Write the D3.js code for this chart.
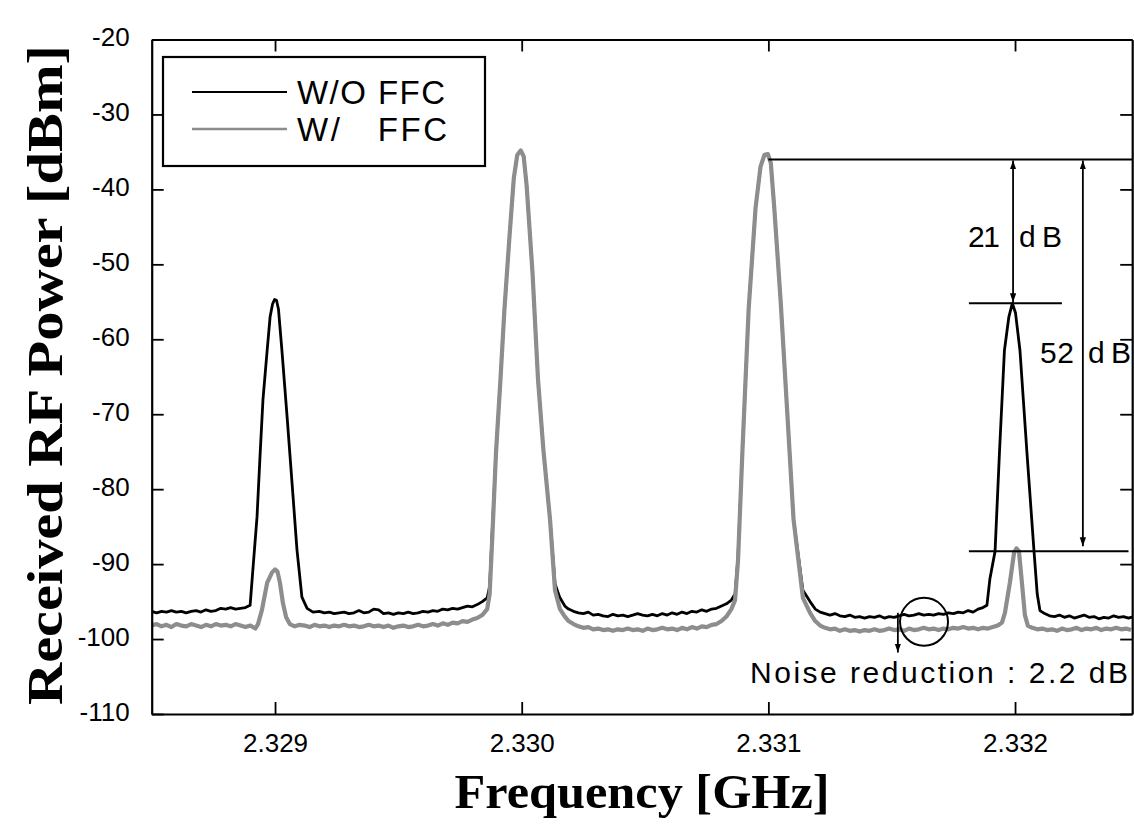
<!DOCTYPE html>
<html>
<head>
<meta charset="utf-8">
<script src="https://cdn.jsdelivr.net/npm/d3@7"></script>
<style>
  html, body { margin: 0; padding: 0; background: #fff; }
  svg { display: block; }
  .tick text { font-family: "Liberation Sans", Arial, sans-serif; font-size: 26px; fill: #000; }
</style>
</head>
<body>
<svg id="chart" width="1134" height="825"></svg>
<script>
// ---------------- data ----------------
const xTickValues = [2.329, 2.330, 2.331, 2.332];
const xTickLabels = ["2.329", "2.330", "2.331", "2.332"];
const yTickValues = [-20, -30, -40, -50, -60, -70, -80, -90, -100, -110];
const yTickLabels = ["-20", "-30", "-40", "-50", "-60", "-70", "-80", "-90", "-100", "-110"];
const seriesNames = ["W/O FFC", "W/   FFC"];

// W/O FFC  [frequency GHz, power dBm]
const withoutFFC = [
  [2.32850,-96.3],[2.32852,-96.5],[2.32854,-96.3],[2.32856,-96.4],[2.32858,-96.2],[2.32860,-96.4],
  [2.32862,-96.3],[2.32864,-96.5],[2.32866,-96.3],[2.32868,-96.2],[2.32870,-96.4],[2.32872,-96.1],
  [2.32874,-96.3],[2.32876,-96.2],[2.32878,-95.9],[2.32880,-96.0],[2.32882,-95.8],[2.32884,-96.0],
  [2.32886,-95.9],[2.32888,-95.8],
  [2.328899,-95.5],[2.328911,-90.4],[2.328927,-83.7],[2.328939,-75.7],[2.328951,-68.1],[2.328968,-61.5],
  [2.328980,-57.0],[2.328990,-55.3],[2.328998,-54.7],[2.329006,-54.8],[2.329014,-56.0],[2.329028,-61.5],[2.329049,-70.4],
  [2.329069,-79.2],[2.329089,-88.1],[2.329109,-94.4],[2.329130,-95.9],[2.329154,-96.4],
  [2.32918,-96.3],[2.32920,-96.5],[2.32922,-96.4],[2.32924,-96.6],[2.32926,-96.5],[2.32928,-96.4],
  [2.32930,-96.6],[2.32932,-96.5],[2.32934,-96.2],[2.32936,-96.5],[2.32938,-96.4],[2.32940,-96.0],
  [2.32942,-96.1],[2.32944,-96.6],[2.32946,-96.5],[2.32948,-96.7],[2.32950,-96.5],[2.32952,-96.6],
  [2.32954,-96.4],[2.32956,-96.6],[2.32958,-96.5],[2.32960,-96.3],[2.32962,-96.4],[2.32964,-96.2],
  [2.32966,-96.3],[2.32968,-96.0],[2.32970,-96.1],[2.32972,-95.9],[2.32974,-96.0],[2.32976,-95.8],
  [2.32978,-95.6],[2.32980,-95.7],[2.32982,-95.4],[2.32984,-95.0],[2.32986,-94.5],
  [2.329870,-93.0],[2.329880,-86.0],[2.329896,-75.0],[2.329914,-65.3],[2.329930,-56.0],[2.329950,-46.5],
  [2.329968,-38.5],[2.329982,-35.4],[2.329996,-34.8],[2.330008,-35.6],[2.330020,-39.5],[2.330044,-51.2],[2.330066,-65.3],[2.330088,-74.8],
  [2.330115,-84.1],[2.330135,-92.6],[2.330155,-94.5],
  [2.330175,-95.6],[2.33019,-96.0],[2.33021,-96.3],[2.33023,-96.5],[2.33025,-96.6],[2.33027,-96.4],
  [2.33029,-96.8],[2.33031,-96.7],[2.33033,-96.9],[2.33035,-97.0],[2.33037,-96.7],[2.33039,-96.9],
  [2.33041,-96.8],[2.33043,-97.0],[2.33045,-96.8],[2.33047,-96.6],[2.33049,-96.8],[2.33051,-96.9],
  [2.33053,-96.7],[2.33055,-96.9],[2.33057,-96.6],[2.33059,-96.8],[2.33061,-96.5],[2.33063,-96.7],
  [2.33065,-96.4],[2.33067,-96.6],[2.33069,-96.3],[2.33071,-96.4],[2.33073,-96.1],[2.33075,-96.3],
  [2.33077,-96.0],[2.33079,-95.9],[2.33081,-95.6],[2.33083,-95.3],[2.33085,-94.8],
  [2.330865,-94.0],[2.330877,-89.0],[2.330895,-74.8],[2.330920,-56.0],[2.330948,-42.5],[2.330968,-37.0],
  [2.330984,-35.4],[2.330998,-35.3],[2.331010,-36.5],[2.331024,-42.5],[2.331050,-55.0],[2.331077,-70.0],[2.331102,-84.0],
  [2.331140,-93.5],[2.331169,-95.0],
  [2.33119,-96.0],[2.33121,-96.4],[2.33123,-96.6],[2.33125,-96.8],[2.33127,-96.6],[2.33129,-96.9],
  [2.33131,-97.0],[2.33133,-96.8],[2.33135,-97.1],[2.33137,-97.0],[2.33139,-97.2],[2.33141,-97.0],
  [2.33143,-97.1],[2.33145,-96.9],[2.33147,-97.2],[2.33149,-97.0],[2.33151,-97.1],[2.33153,-96.9],
  [2.33155,-96.7],[2.33157,-96.9],[2.33159,-96.8],[2.33161,-96.6],[2.33163,-96.8],[2.33165,-96.7],
  [2.33167,-96.8],[2.33169,-96.6],[2.33171,-96.7],[2.33173,-96.5],[2.33175,-96.6],[2.33177,-96.4],
  [2.33179,-96.5],[2.33181,-96.2],[2.33183,-96.4],[2.33185,-96.0],[2.33187,-95.8],
  [2.331886,-95.5],[2.331898,-92.0],[2.331919,-88.3],[2.331937,-75.0],[2.331957,-61.5],[2.331975,-57.0],
  [2.331989,-55.2],[2.332002,-56.5],[2.332020,-61.5],[2.332048,-75.0],[2.332077,-88.3],[2.332090,-94.0],
  [2.332101,-96.2],
  [2.33212,-96.6],[2.33214,-96.9],[2.33216,-97.0],[2.33218,-96.8],[2.33220,-97.1],[2.33222,-96.9],
  [2.33224,-97.2],[2.33226,-97.0],[2.33228,-96.8],[2.33230,-97.1],[2.33232,-97.0],[2.33234,-97.3],
  [2.33236,-97.1],[2.33238,-97.2],[2.33240,-96.9],[2.33242,-97.1],[2.33244,-97.0],[2.33246,-97.2],
  [2.33248,-97.0]
];

// W/ FFC  [frequency GHz, power dBm]
const withFFC = [
  [2.32850,-98.2],[2.32852,-98.0],[2.32854,-98.3],[2.32856,-98.1],[2.32858,-98.4],[2.32860,-98.0],
  [2.32862,-98.2],[2.32864,-98.3],[2.32866,-98.0],[2.32868,-98.2],[2.32870,-98.4],[2.32872,-98.1],
  [2.32874,-98.3],[2.32876,-98.0],[2.32878,-98.2],[2.32880,-98.1],[2.32882,-98.3],[2.32884,-98.0],
  [2.32886,-98.2],[2.32888,-98.4],[2.32890,-98.2],[2.32892,-98.6],
  [2.328931,-98.0],[2.328947,-96.1],[2.328968,-92.5],[2.328988,-91.1],[2.329000,-90.7],[2.329010,-91.0],[2.329020,-92.5],
  [2.329032,-95.2],[2.329045,-97.1],[2.32906,-98.0],
  [2.32908,-98.3],[2.32910,-98.1],[2.32912,-98.2],[2.32914,-98.4],[2.32916,-98.1],[2.32918,-98.3],
  [2.32920,-98.2],[2.32922,-98.4],[2.32924,-98.2],[2.32926,-98.3],[2.32928,-98.1],[2.32930,-98.3],
  [2.32932,-98.2],[2.32934,-98.4],[2.32936,-98.3],[2.32938,-98.1],[2.32940,-98.3],[2.32942,-98.2],
  [2.32944,-98.4],[2.32946,-98.2],[2.32948,-98.5],[2.32950,-98.3],[2.32952,-98.2],[2.32954,-98.4],
  [2.32956,-98.3],[2.32958,-98.1],[2.32960,-98.3],[2.32962,-98.2],[2.32964,-98.0],[2.32966,-98.2],
  [2.32968,-97.9],[2.32970,-98.1],[2.32972,-97.8],[2.32974,-97.9],[2.32976,-97.6],[2.32978,-97.7],
  [2.32980,-97.4],[2.32982,-97.2],[2.32984,-96.8],[2.32986,-96.0],
  [2.329870,-94.0],[2.329880,-87.0],[2.329896,-75.0],[2.329914,-65.3],[2.329930,-56.0],[2.329950,-46.5],
  [2.329968,-38.5],[2.329982,-35.4],[2.329996,-34.8],[2.330008,-35.6],[2.330020,-39.5],[2.330044,-51.2],[2.330066,-65.3],[2.330088,-74.8],
  [2.330115,-84.1],[2.330135,-93.5],[2.330155,-96.0],
  [2.330175,-97.0],[2.33019,-97.6],[2.33021,-98.0],[2.33023,-98.3],[2.33025,-98.5],[2.33027,-98.4],
  [2.33029,-98.7],[2.33031,-98.6],[2.33033,-98.8],[2.33035,-98.7],[2.33037,-98.9],[2.33039,-98.7],
  [2.33041,-98.8],[2.33043,-98.6],[2.33045,-98.8],[2.33047,-98.7],[2.33049,-98.9],[2.33051,-98.6],
  [2.33053,-98.8],[2.33055,-98.7],[2.33057,-98.5],[2.33059,-98.7],[2.33061,-98.6],[2.33063,-98.8],
  [2.33065,-98.5],[2.33067,-98.7],[2.33069,-98.4],[2.33071,-98.6],[2.33073,-98.3],[2.33075,-98.4],
  [2.33077,-98.1],[2.33079,-98.0],[2.33081,-97.6],[2.33083,-97.0],[2.33085,-96.0],
  [2.330865,-94.8],[2.330877,-89.5],[2.330895,-74.8],[2.330920,-56.0],[2.330948,-42.5],[2.330968,-37.0],
  [2.330984,-35.4],[2.330998,-35.3],[2.331010,-36.5],[2.331024,-42.5],[2.331050,-55.0],[2.331077,-70.0],[2.331102,-84.0],
  [2.331140,-94.5],[2.331169,-96.5],
  [2.33119,-97.6],[2.33121,-98.2],[2.33123,-98.5],[2.33125,-98.7],[2.33127,-98.6],[2.33129,-98.9],
  [2.33131,-98.7],[2.33133,-98.9],[2.33135,-98.8],[2.33137,-99.0],[2.33139,-98.8],[2.33141,-98.9],
  [2.33143,-98.7],[2.33145,-98.9],[2.33147,-98.8],[2.33149,-98.6],[2.33151,-98.8],[2.33153,-98.7],
  [2.33155,-98.9],[2.33157,-98.6],[2.33159,-98.8],[2.33161,-98.7],[2.33163,-98.5],[2.33165,-98.7],
  [2.33167,-98.6],[2.33169,-98.8],[2.33171,-98.6],[2.33173,-98.7],[2.33175,-98.5],[2.33177,-98.6],
  [2.33179,-98.4],[2.33181,-98.6],[2.33183,-98.5],[2.33185,-98.7],[2.33187,-98.5],[2.33189,-98.6],
  [2.33191,-98.4],[2.33193,-98.2],
  [2.331947,-97.8],[2.331959,-96.5],[2.331979,-92.5],[2.331996,-88.5],[2.332006,-87.9],[2.332016,-88.3],
  [2.332028,-92.5],[2.332040,-96.8],[2.332052,-98.2],
  [2.33207,-98.5],[2.33209,-98.7],[2.33211,-98.6],[2.33213,-98.8],[2.33215,-98.7],[2.33217,-98.9],
  [2.33219,-98.6],[2.33221,-98.8],[2.33223,-98.7],[2.33225,-98.5],[2.33227,-98.8],[2.33229,-98.6],
  [2.33231,-98.7],[2.33233,-98.5],[2.33235,-98.8],[2.33237,-98.6],[2.33239,-98.7],[2.33241,-98.5],
  [2.33243,-98.7],[2.33245,-98.6],[2.33247,-98.8]
];

// annotation values (levels in dBm, positions in GHz)
const carrierLevel = -36.0;
const withoutPeakLevel = -55.2;
const withPeakLevel = -88.3;
const annotationTexts = ["21", "dB", "52", "dB", "Noise reduction : 2.2 dB"];

// ---------------- layout ----------------
const svg = d3.select("#chart");
const pLeft = 151.7, pRight = 1132.2, pTop = 39.5, pBottom = 714;
const x = d3.scaleLinear().domain([2.3285, 2.332475]).range([pLeft, pRight]);
const y = d3.scaleLinear().domain([-110, -20]).range([pBottom, pTop]);

const defs = svg.append("defs");
defs.append("clipPath").attr("id", "plotclip")
  .append("rect").attr("x", pLeft).attr("y", pTop).attr("width", pRight - pLeft).attr("height", pBottom - pTop);
defs.append("marker").attr("id", "ah").attr("viewBox", "0 0 10 10").attr("refX", 10).attr("refY", 5)
  .attr("markerWidth", 9).attr("markerHeight", 9).attr("markerUnits", "userSpaceOnUse").attr("orient", "auto-start-reverse")
  .append("path").attr("d", "M0,1.5 L10,5 L0,8.5 Z").attr("fill", "#000");

// ---------------- series ----------------
const line = d3.line().x(d => x(d[0])).y(d => y(d[1]));
const plot = svg.append("g").attr("clip-path", "url(#plotclip)");
plot.append("path").datum(withoutFFC).attr("d", line)
  .attr("fill", "none").attr("stroke", "#000").attr("stroke-width", 2.8).attr("stroke-linejoin", "round");
plot.append("path").datum(withFFC).attr("d", line)
  .attr("fill", "none").attr("stroke", "#8d8d8d").attr("stroke-width", 4.2).attr("stroke-linejoin", "round");

// ---------------- axes ----------------
function styleAxis(g) {
  g.select(".domain").attr("stroke", "#000").attr("stroke-width", 2.2);
  g.selectAll(".tick line").attr("stroke", "#000").attr("stroke-width", 1.8);
}
const gx = svg.append("g").attr("transform", `translate(0,${pBottom})`)
  .call(d3.axisBottom(x).tickValues(xTickValues).tickSize(-12).tickSizeOuter(0)
    .tickFormat((d, i) => xTickLabels[i]));
gx.call(styleAxis);
gx.selectAll(".tick text").attr("y", 38).attr("dy", 0);

const gxt = svg.append("g").attr("transform", `translate(0,${pTop})`)
  .call(d3.axisTop(x).tickValues(xTickValues).tickSize(-12).tickSizeOuter(0).tickFormat(""));
gxt.call(styleAxis);

const gy = svg.append("g").attr("transform", `translate(${pLeft},0)`)
  .call(d3.axisLeft(y).tickValues(yTickValues).tickSize(-12).tickSizeOuter(0)
    .tickFormat((d, i) => yTickLabels[i]));
gy.call(styleAxis);
gy.selectAll(".tick text").attr("x", -22).attr("dy", 6);

const gyr = svg.append("g").attr("transform", `translate(${pRight},0)`)
  .call(d3.axisRight(y).tickValues(yTickValues).tickSize(-12).tickSizeOuter(0).tickFormat(""));
gyr.call(styleAxis);

// axis titles
svg.append("text").text("Frequency [GHz]")
  .attr("x", 642).attr("y", 808).attr("text-anchor", "middle")
  .attr("font-family", "'Liberation Serif', 'Times New Roman', serif").attr("font-weight", "bold")
  .attr("font-size", 48).attr("textLength", 375).attr("lengthAdjust", "spacingAndGlyphs");
svg.append("text").text("Received RF Power [dBm]")
  .attr("transform", "translate(62,375) rotate(-90)").attr("text-anchor", "middle")
  .attr("font-family", "'Liberation Serif', 'Times New Roman', serif").attr("font-weight", "bold")
  .attr("font-size", 50).attr("textLength", 660).attr("lengthAdjust", "spacingAndGlyphs");

// ---------------- legend ----------------
const lg = svg.append("g");
lg.append("rect").attr("x", 163).attr("y", 57).attr("width", 322).attr("height", 109)
  .attr("fill", "#fff").attr("stroke", "#000").attr("stroke-width", 2.2);
const legendColors = ["#000", "#8d8d8d"];
const legendWidths = [2.2, 2.6];
const legendTextLengths = [148, 150];
seriesNames.forEach((name, i) => {
  const yy = 92 + i * 37;
  lg.append("line").attr("x1", 192).attr("x2", 287).attr("y1", yy).attr("y2", yy)
    .attr("stroke", legendColors[i]).attr("stroke-width", legendWidths[i]);
  lg.append("text").text(name).attr("x", 297).attr("y", yy + 12)
    .attr("font-family", "'Liberation Sans', Arial, sans-serif").attr("font-size", 33)
    .attr("textLength", legendTextLengths[i]).attr("lengthAdjust", "spacing")
    .style("white-space", "pre");
});

// ---------------- annotations ----------------
const ann = svg.append("g").attr("stroke", "#000").attr("stroke-width", 2);
ann.append("line").attr("x1", x(2.331)).attr("x2", pRight).attr("y1", y(carrierLevel)).attr("y2", y(carrierLevel));
ann.append("line").attr("x1", x(2.331813)).attr("x2", x(2.33219)).attr("y1", y(withoutPeakLevel)).attr("y2", y(withoutPeakLevel));
ann.append("line").attr("x1", x(2.331813)).attr("x2", x(2.33246)).attr("y1", y(withPeakLevel)).attr("y2", y(withPeakLevel));
ann.append("line").attr("x1", x(2.331992)).attr("x2", x(2.331992))
  .attr("y1", y(carrierLevel) + 1).attr("y2", y(withoutPeakLevel) - 1)
  .attr("stroke-width", 1.8).attr("marker-start", "url(#ah)").attr("marker-end", "url(#ah)");
ann.append("line").attr("x1", x(2.332275)).attr("x2", x(2.332275))
  .attr("y1", y(carrierLevel) + 1).attr("y2", y(withPeakLevel) - 5)
  .attr("stroke-width", 1.8).attr("marker-start", "url(#ah)").attr("marker-end", "url(#ah)");
ann.append("circle").attr("cx", x(2.331631)).attr("cy", y(-97.7)).attr("r", 24).attr("fill", "none");
ann.append("line").attr("x1", x(2.331525)).attr("x2", x(2.331525))
  .attr("y1", y(-96.5)).attr("y2", y(-101.8)).attr("stroke-width", 1.8).attr("marker-end", "url(#ah)");

const tfont = "'Liberation Sans', Arial, sans-serif";
function annText(t, xx, yy, len) {
  const el = svg.append("text").text(t).attr("x", xx).attr("y", yy)
    .attr("font-family", tfont).attr("font-size", 30).attr("fill", "#000");
  if (len) el.attr("textLength", len).attr("lengthAdjust", "spacing");
  return el;
}
annText(annotationTexts[0], 968, 247, 32);
annText(annotationTexts[1], 1019, 247, 43);
annText(annotationTexts[2], 1040, 363, 34);
annText(annotationTexts[3], 1088, 363, 43);
annText(annotationTexts[4], 750, 683, 378);
</script>
</body>
</html>
